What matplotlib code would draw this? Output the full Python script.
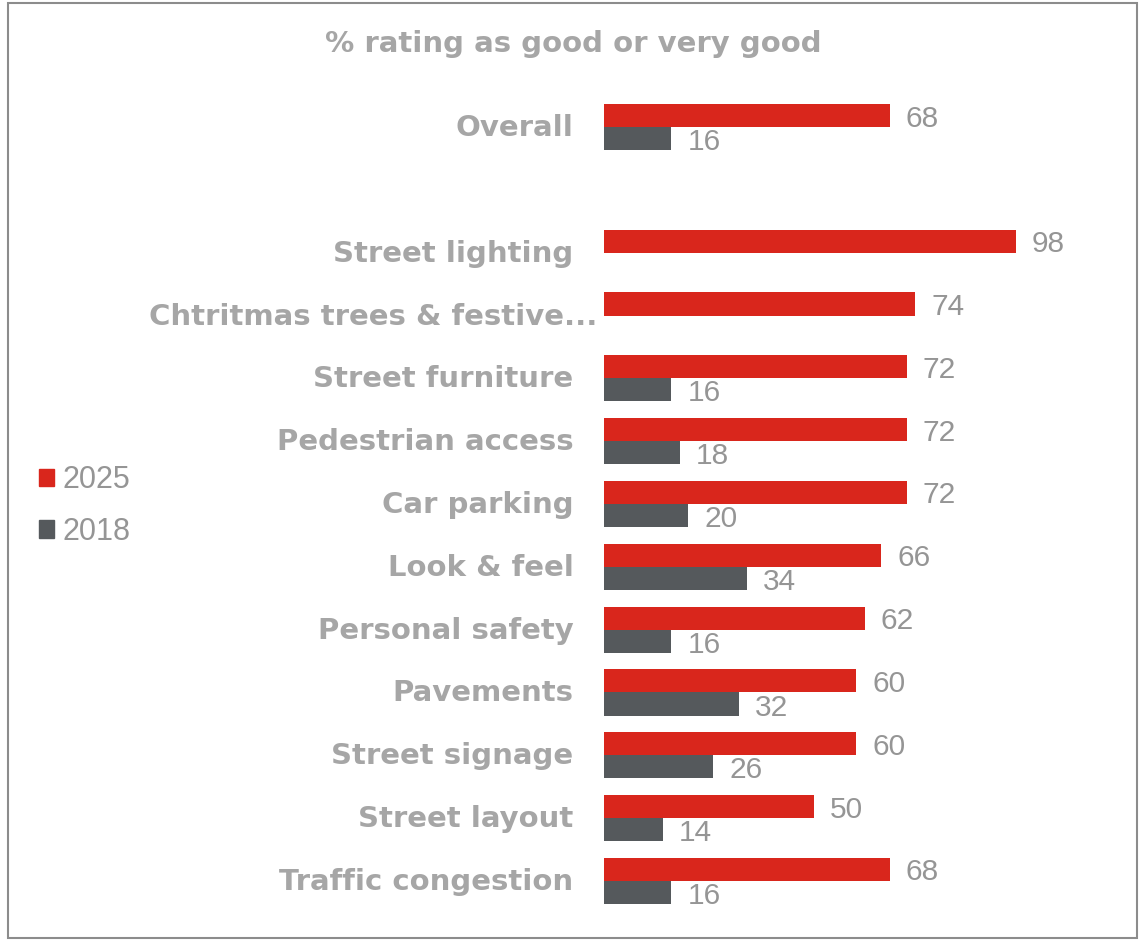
import numpy as np
import matplotlib
matplotlib.use("Agg")
import matplotlib.pyplot as plt
import matplotlib.transforms as mtransforms
from matplotlib.patches import Patch, Rectangle

categories = ["Overall", "", "Street lighting", "Chtritmas trees & festive...",
              "Street furniture", "Pedestrian access", "Car parking", "Look & feel",
              "Personal safety", "Pavements", "Street signage", "Street layout",
              "Traffic congestion"]
values_2025 = [68, np.nan, 98, 74, 72, 72, 72, 66, 62, 60, 60, 50, 68]
values_2018 = [16, np.nan, np.nan, np.nan, 16, 18, 20, 34, 16, 32, 26, 14, 16]
series_labels = ["2025", "2018"]
title = "% rating as good or very good"

RED = "#D9261C"
DARK = "#55595C"
LABEL_GREY = "#A6A6A6"
VALUE_GREY = "#959595"

W, H = 1140, 941
fig = plt.figure(figsize=(W / 100, H / 100), dpi=100)

# axes placed in pixel terms: x=0 at 604px, 4.204 px per unit; rows 62.83px apart
slot = 62.83
x0_px, unit_px = 604, 4.204
top_px = 127 - slot / 2
bottom_px = 881 + slot / 2
ax = fig.add_axes([x0_px / W, 1 - bottom_px / H, 100 * unit_px / W, (bottom_px - top_px) / H])

y = np.arange(len(categories))
bh = 23 / slot
ax.barh(y - bh / 2, values_2025, height=bh, color=RED)
ax.barh(y + bh / 2, values_2018, height=bh, color=DARK)

ax.set_xlim(0, 100)
ax.set_ylim(len(categories) - 0.5, -0.5)
for s in ax.spines.values():
    s.set_visible(False)
ax.set_xticks([])
ax.set_yticks(y)
ax.set_yticklabels(categories, fontsize=21, fontweight="bold", color=LABEL_GREY,
                   family="DejaVu Sans")
ax.tick_params(axis="y", length=0, pad=22)

# nudge labels up slightly; the truncated label sits closer to the bars
for lbl in ax.get_yticklabels():
    dx = 24 if lbl.get_text().endswith("...") else 0
    lbl.set_transform(lbl.get_transform() +
                      mtransforms.ScaledTranslation(dx / 100, 2 / 100, fig.dpi_scale_trans))

off = 16 / unit_px
dy = 3 / slot
for yi, v in zip(y, values_2025):
    if not np.isnan(v):
        ax.text(v + off, yi - bh / 2 + dy, f"{v:g}", va="center", ha="left",
                fontsize=21.5, color=VALUE_GREY, family="Liberation Sans")
for yi, v in zip(y, values_2018):
    if not np.isnan(v):
        ax.text(v + off, yi + bh / 2 + dy + 0.01, f"{v:g}", va="center", ha="left",
                fontsize=21.5, color=VALUE_GREY, family="Liberation Sans")

fig.text(573 / W, 1 - 44 / H, title, ha="center", va="center", fontsize=21,
         fontweight="bold", color=LABEL_GREY, family="DejaVu Sans")

handles = [Patch(color=RED), Patch(color=DARK)]
leg = fig.legend(handles, series_labels, loc="center left",
                 bbox_to_anchor=(11 / W, 1 - 506 / H), frameon=False,
                 prop={"family": "Liberation Sans", "size": 22},
                 handlelength=0.5, handleheight=0.5, handletextpad=0.3,
                 labelspacing=0.7)
for t in leg.get_texts():
    t.set_color(VALUE_GREY)

# outer frame
fig.patches.append(Rectangle((8 / W, 3 / H), (1137 - 8) / W, (938 - 3) / H,
                             transform=fig.transFigure, fill=False,
                             edgecolor="#8C8C8C", linewidth=1.5))

fig.savefig("out.png", dpi=100, facecolor="white")
